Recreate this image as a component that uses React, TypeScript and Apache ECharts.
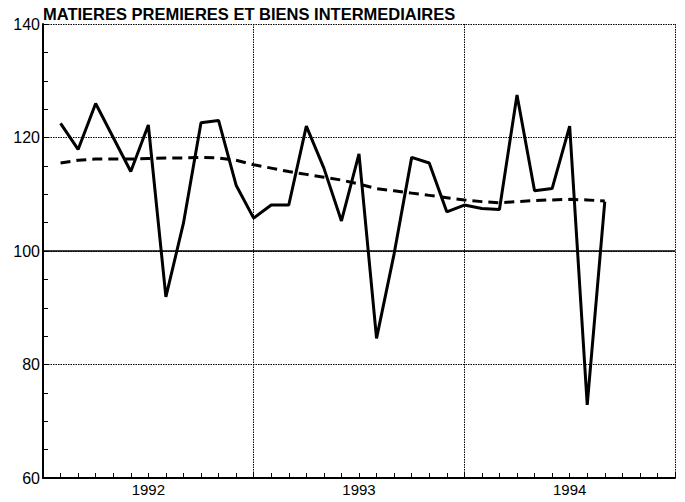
import React, { useEffect, useRef } from "react";
import * as echarts from "echarts";

const TITLE = "MATIERES PREMIERES ET BIENS INTERMEDIAIRES";

// Months on the axis: Jan 1992 .. Jan 1995 (boundaries)
const axisMonths: string[] = [];
for (let y = 1992; y <= 1994; y++) {
  for (let m = 1; m <= 12; m++) axisMonths.push(`${y}-${String(m).padStart(2, "0")}`);
}
axisMonths.push("1995-01");

const yearLabels: Record<string, string> = { "1992-07": "1992", "1993-07": "1993", "1994-07": "1994" };

const seriesMonths = [
  "1992-02", "1992-03", "1992-04", "1992-05", "1992-06", "1992-07", "1992-08", "1992-09", "1992-10", "1992-11", "1992-12",
  "1993-01", "1993-02", "1993-03", "1993-04", "1993-05", "1993-06", "1993-07", "1993-08", "1993-09", "1993-10", "1993-11", "1993-12",
  "1994-01", "1994-02", "1994-03", "1994-04", "1994-05", "1994-06", "1994-07", "1994-08", "1994-09",
];

const rawValues = [
  122.5, 117.9, 126.0, 120.0, 114.0, 122.2, 91.9, 104.9, 122.6, 123.0, 111.6,
  105.8, 108.1, 108.1, 122.0, 114.6, 105.3, 117.1, 84.6, 99.5, 116.5, 115.5, 106.9,
  108.1, 107.5, 107.3, 127.5, 110.6, 111.0, 122.0, 72.9, 108.7,
];

const trendValues = [
  115.5, 116.0, 116.2, 116.2, 116.2, 116.3, 116.4, 116.4, 116.5, 116.4, 116.0,
  115.2, 114.6, 114.0, 113.5, 113.0, 112.5, 111.8, 111.0, 110.6, 110.2, 109.8, 109.4,
  109.0, 108.7, 108.5, 108.7, 108.9, 109.0, 109.1, 109.0, 108.8,
];

const FONT = "'Liberation Sans', Arial, Helvetica, sans-serif";

export default function App() {
  const ref = useRef<HTMLDivElement>(null);
  useEffect(() => {
    if (!ref.current) return;
    const chart = echarts.init(ref.current, undefined, { renderer: "svg" });
    chart.setOption({
      animation: false,
      backgroundColor: "#fff",
      title: {
        text: TITLE,
        left: 43,
        top: 5,
        padding: 0,
        textStyle: { fontFamily: FONT, fontSize: 16.5, fontWeight: "bold", color: "#000" },
      },
      grid: { left: 43, right: 10, top: 24, bottom: 24, containLabel: false },
      xAxis: {
        type: "category",
        data: axisMonths,
        boundaryGap: false,
        axisLine: { lineStyle: { color: "#000", width: 2 } },
        axisTick: { show: true, inside: true, length: 5, interval: 0, lineStyle: { color: "#000", width: 1 } },
        axisLabel: {
          interval: 0,
          formatter: (v: string) => yearLabels[v] || "",
          color: "#000",
          fontFamily: FONT,
          fontSize: 15,
          margin: 4,
        },
        splitLine: {
          show: true,
          interval: (idx: number) => idx > 0 && idx % 12 === 0,
          lineStyle: { color: "#000", width: 1, type: [1.5, 1] },
        },
      },
      yAxis: [
        {
          type: "value",
          min: 60,
          max: 140,
          interval: 5,
          axisLine: { show: true, lineStyle: { color: "#000", width: 2 } },
          axisTick: { show: true, inside: true, length: 5, lineStyle: { color: "#000", width: 1 } },
          axisLabel: {
            formatter: (v: number) => (v % 20 === 0 ? String(v) : ""),
            color: "#000",
            fontFamily: FONT,
            fontSize: 16,
            margin: 3,
          },
          splitLine: { show: false },
        },
        {
          type: "value",
          min: 60,
          max: 140,
          interval: 20,
          position: "right",
          axisLine: { show: false },
          axisTick: { show: false },
          axisLabel: { show: false },
          splitLine: { show: true, lineStyle: { color: "#000", width: 1, type: [1.5, 1] } },
        },
      ],
      series: [
        {
          type: "line",
          data: seriesMonths.map((m, i) => [m, rawValues[i]]),
          symbol: "none",
          lineStyle: { color: "#000", width: 3 },
          z: 3,
          markLine: {
            silent: true,
            symbol: "none",
            label: { show: false },
            lineStyle: { color: "#000", width: 1.5, type: "solid" },
            data: [{ yAxis: 100 }],
          },
        },
        {
          type: "line",
          data: seriesMonths.map((m, i) => [m, trendValues[i]]),
          symbol: "none",
          lineStyle: { color: "#000", width: 3, type: [10, 6] },
          z: 2,
        },
      ],
    });
    return () => chart.dispose();
  }, []);
  return <div ref={ref} style={{ position: "absolute", left: 0, top: 0, width: 685, height: 502 }} />;
}
